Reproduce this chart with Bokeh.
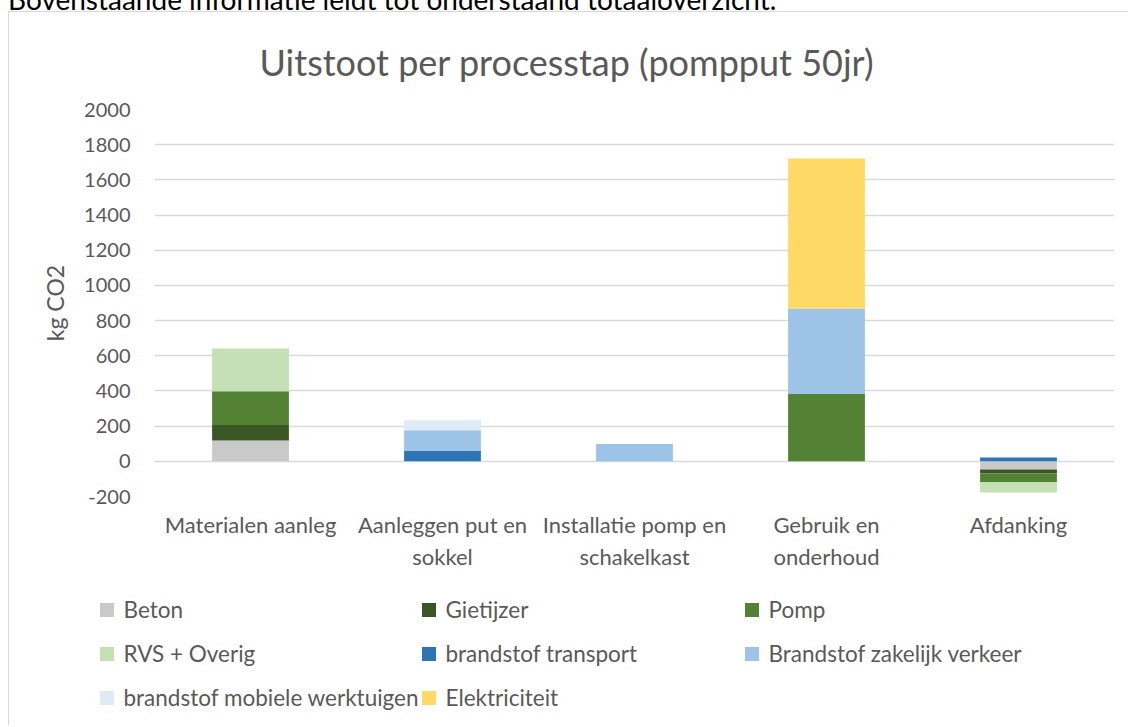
from bokeh.plotting import figure
from bokeh.models import (Range1d, FactorRange, FixedTicker, Legend, LegendItem, Div)
from bokeh.layouts import column
from bokeh.embed import file_html
from bokeh.resources import INLINE
import numpy as np

categories = ["Materialen aanleg", "Aanleggen put en\nsokkel", "Installatie pomp en\nschakelkast",
              "Gebruik en\nonderhoud", "Afdanking"]
series_names = ["Beton", "Gietijzer", "Pomp", "RVS + Overig", "brandstof transport",
                "Brandstof zakelijk verkeer", "brandstof mobiele werktuigen", "Elektriciteit"]
beton = [119, 0, 0, 0, -47]
gietijzer = [87, 0, 0, 0, -21]
pomp = [192, 0, 0, 382, -50]
rvs_overig = [244, 0, 0, 0, -59]
brandstof_transport = [0, 59, 0, 0, 21]
brandstof_zakelijk = [0, 117, 98, 487, 0]
brandstof_mobiel = [0, 57, 0, 0, 0]
elektriciteit = [0, 0, 0, 852, 0]
series_values = [beton, gietijzer, pomp, rvs_overig, brandstof_transport,
                 brandstof_zakelijk, brandstof_mobiel, elektriciteit]
colors = ["#C9C9C9", "#3A5725", "#548235", "#C5E0B4", "#2E75B6", "#9DC3E6", "#DEEBF7", "#FFD966"]
y_ticks = [-200, 0, 200, 400, 600, 800, 1000, 1200, 1400, 1600, 1800, 2000]
y_tick_labels = ["-200", "0", "200", "400", "600", "800", "1000", "1200", "1400", "1600", "1800", "2000"]
intro_text = "Bovenstaande informatie leidt tot onderstaand totaaloverzicht."

FONT = "Lato"
TXT = "#595959"
BORDER = "1px solid #D9D9D9"
FIG_W = 1120

# ---------------- main chart ----------------
p = figure(x_range=FactorRange(*categories, range_padding=0), y_range=Range1d(-200, 2000),
           width=FIG_W, height=563, output_backend="svg", toolbar_location=None,
           min_border_left=145, min_border_right=FIG_W - 145 - 960, min_border_top=97,
           min_border_bottom=79, margin=(0, 0, 0, 8))

pos = np.zeros(len(categories))
neg = np.zeros(len(categories))
for name, vals, col in zip(series_names, series_values, colors):
    v = np.array(vals, dtype=float)
    bottom = np.where(v >= 0, pos, neg)
    top = bottom + v
    pos = np.where(v >= 0, top, pos)
    neg = np.where(v < 0, top, neg)
    p.vbar(x=categories, bottom=bottom, top=top, width=0.4, fill_color=col, line_color=None)

p.title.text = "Uitstoot per processtap (pompput 50jr)"
p.title.align = "left"
p.title.offset = 105
p.title.vertical_align = "middle"
p.title.text_font = FONT
p.title.text_font_size = "36px"
p.title.text_font_style = "normal"
p.title.text_color = TXT
p.title.standoff = 50

p.outline_line_color = None
p.xgrid.grid_line_color = None
p.ygrid.grid_line_color = "#D9D9D9"
p.ygrid.grid_line_width = 1.5

p.yaxis.ticker = FixedTicker(ticks=y_ticks)
p.yaxis.major_label_overrides = dict(zip(y_ticks, y_tick_labels))
p.yaxis.axis_line_color = None
p.yaxis.major_tick_line_color = None
p.yaxis.major_tick_out = 0
p.yaxis.major_tick_in = 0
p.yaxis.minor_tick_line_color = None
p.yaxis.major_label_text_font = FONT
p.yaxis.major_label_text_font_size = "20px"
p.yaxis.major_label_text_color = TXT
p.yaxis.major_label_standoff = 24
p.yaxis.axis_label = "kg CO2"
p.yaxis.axis_label_text_font = FONT
p.yaxis.axis_label_text_font_size = "23px"
p.yaxis.axis_label_text_font_style = "normal"
p.yaxis.axis_label_text_color = TXT
p.yaxis.axis_label_standoff = 12

p.xaxis.axis_line_color = None
p.xaxis.major_tick_line_color = None
p.xaxis.major_tick_out = 0
p.xaxis.major_tick_in = 0
p.xaxis.minor_tick_line_color = None
p.xaxis.major_label_text_font = FONT
p.xaxis.major_label_text_font_size = "22px"
p.xaxis.major_label_text_color = TXT
p.xaxis.major_label_standoff = 14

p.styles = {"border-left": BORDER, "border-top": BORDER}

# ---------------- legend strip ----------------
LG_H = 151
lg = figure(width=FIG_W, height=LG_H, output_backend="svg", toolbar_location=None,
            x_range=Range1d(0, 1), y_range=Range1d(0, 1),
            min_border_left=0, min_border_right=0, min_border_top=0, min_border_bottom=0,
            margin=(0, 0, 0, 8))
lg.axis.visible = False
lg.grid.visible = False
lg.outline_line_color = None
lg.styles = {"border-left": BORDER}
for fig in (p, lg):
    if "frame_align" in fig.properties():
        fig.frame_align = False

# legend handles: one point each, outside the visible range
handles = [lg.scatter(x=[-1], y=[-1], marker="square", fill_color=c, line_color=None)
           for c in colors]

legend_columns = [[0, 3, 6], [1, 4, 7], [2, 5]]
col_x = [79.5, 401.5, 724.5]
ROW_BOX = 35
ROW_GAP = 9
for idxs, x0 in zip(legend_columns, col_x):
    n = len(idxs)
    h = n * ROW_BOX + (n - 1) * ROW_GAP
    vy = LG_H - (17.5 + h)
    leg = Legend(items=[LegendItem(label=series_names[i], renderers=[handles[i]]) for i in idxs],
                 location=(x0, vy), orientation="vertical",
                 glyph_width=ROW_BOX, glyph_height=ROW_BOX, label_standoff=-11,
                 label_height=ROW_BOX, spacing=ROW_GAP, padding=0, margin=0,
                 border_line_color=None, background_fill_alpha=0,
                 label_text_font=FONT, label_text_font_size="22.5px", label_text_color=TXT)
    lg.add_layout(leg, "center")

div = Div(text=f'<div style="position:relative; top:-18px; left:8px; white-space:nowrap; '
               f'font-family:Lato; font-size:28px; line-height:34px; color:#000;">{intro_text}</div>',
          width=FIG_W, height=11, margin=0)

layout = column(div, p, lg, spacing=0)
open("out.html", "w").write(file_html(layout, INLINE))
